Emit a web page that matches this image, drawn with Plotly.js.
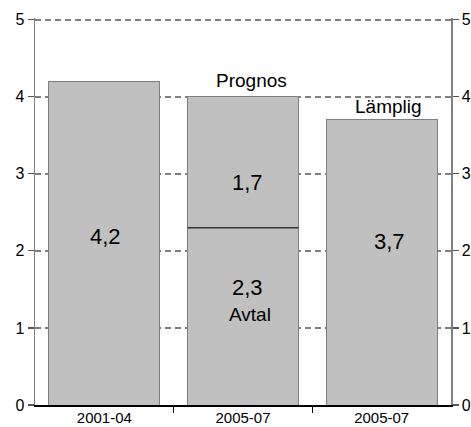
<!DOCTYPE html>
<html>
<head>
<meta charset="utf-8">
<script src="https://cdn.plot.ly/plotly-3.0.1.min.js"></script>
<style>html,body{margin:0;padding:0;background:#fff}#chart{width:471px;height:427px}</style>
</head>
<body>
<div id="chart"></div>
<script>
// Data
const categories = ["2001-04", "2005-07", "2005-07"];
const avtal = [4.2, 2.3, 3.7];          // base part of each bar
const prognos = [null, 1.7, null];      // forecast part stacked on the middle bar
const valueLabels = ["4,2", "2,3", "3,7"];
const prognosLabel = "1,7";
const yTicks = [0, 1, 2, 3, 4, 5];

const xIdx = categories.map((c, i) => i);
const barWidth = 0.8;
const totals = avtal.map((v, i) => v + (prognos[i] || 0));

const font = "Liberation Sans, Arial, sans-serif";
const barMarker = {color: "#c0c0c0", line: {color: "#808080", width: 1}};

const traces = [
  {type: "bar", x: xIdx, y: avtal, width: barWidth, marker: barMarker, hoverinfo: "skip", name: "Avtal"},
  {type: "bar", x: xIdx, y: prognos, width: barWidth, marker: barMarker, hoverinfo: "skip", name: "Prognos"},
  {type: "scatter", x: xIdx, y: totals, mode: "none", yaxis: "y2", hoverinfo: "skip", showlegend: false}
];

const ann = (x, y, text, size) => ({x: x, y: y, xref: "x", yref: "y", text: text, showarrow: false,
  font: {family: font, size: size, color: "#000"}});

const annotations = [
  ann(xIdx[0] + 0.01, 2.18, valueLabels[0], 22),
  ann(xIdx[1] + 0.03, 2.89, prognosLabel, 22),
  ann(xIdx[1] + 0.03, 1.53, valueLabels[1], 22),
  ann(xIdx[1] + 0.05, 1.18, "Avtal", 19),
  ann(xIdx[1] + 0.06, 4.21, "Prognos", 19),
  ann(xIdx[2] + 0.05, 3.87, "Lämplig", 19),
  ann(xIdx[2] + 0.06, 2.12, valueLabels[2], 22)
];

const yRange = [0, 5.02];
const yCommon = {
  range: yRange, tickvals: yTicks, ticktext: yTicks.map(String),
  ticks: "outside", ticklen: 6, tickcolor: "#555", tickwidth: 1.2,
  showline: true, linecolor: "#808080", linewidth: 1.5,
  zeroline: false, fixedrange: true,
  tickfont: {family: font, size: 16, color: "#000"}
};

const layout = {
  width: 471, height: 427,
  margin: {l: 35, r: 20, t: 17.5, b: 22},
  paper_bgcolor: "#fff", plot_bgcolor: "#fff",
  showlegend: false,
  barmode: "stack",
  xaxis: {
    range: [-0.5, 2.5], tickvals: xIdx, ticktext: categories, ticks: "",
    ticklabelstandoff: -2,
    showline: true, linecolor: "#000", linewidth: 1.5, showgrid: false, zeroline: false,
    tickfont: {family: font, size: 15, color: "#000"},
    minor: {tickvals: [0.5, 1.5], ticks: "outside", ticklen: 6, tickcolor: "#000", tickwidth: 1.5, showgrid: false}
  },
  yaxis: Object.assign({}, yCommon, {side: "left", showgrid: true, gridcolor: "#808080", gridwidth: 2, griddash: "6px,4px"}),
  yaxis2: Object.assign({}, yCommon, {side: "right", overlaying: "y", showgrid: false}),
  shapes: [{
    type: "line", xref: "x", yref: "y",
    x0: xIdx[1] - barWidth / 2, x1: xIdx[1] + barWidth / 2,
    y0: avtal[1], y1: avtal[1],
    line: {color: "#333", width: 1.5}
  }],
  annotations: annotations
};

Plotly.newPlot("chart", traces, layout, {displayModeBar: false, staticPlot: true});
</script>
</body>
</html>
